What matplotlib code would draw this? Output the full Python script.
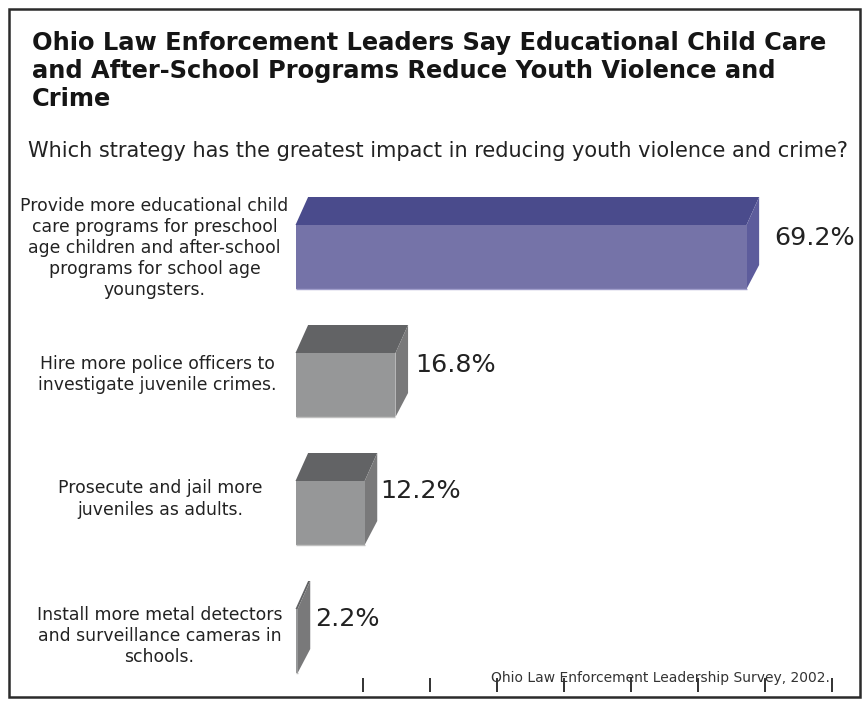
import matplotlib
matplotlib.use("Agg")
from matplotlib import pyplot as plt
from matplotlib.patches import Polygon, Rectangle

W, H = 865, 702

title = "Ohio Law Enforcement Leaders Say Educational Child Care\nand After-School Programs Reduce Youth Violence and\nCrime"
question = "Which strategy has the greatest impact in reducing youth violence and crime?"
source = "Ohio Law Enforcement Leadership Survey, 2002."

categories = [
    "Provide more educational child\ncare programs for preschool\nage children and after-school\nprograms for school age\nyoungsters.",
    "Hire more police officers to\ninvestigate juvenile crimes.",
    "Prosecute and jail more\njuveniles as adults.",
    "Install more metal detectors\nand surveillance cameras in\nschools.",
]
values = [69.2, 16.8, 12.2, 2.2]
x_ticks = [10, 20, 30, 40, 50, 60, 70, 80]

# face colours: front, top, side, bottom edge
purple = ("#7573a8", "#4a4b8c", "#5d5c9c", "#a09ecb")
gray = ("#969798", "#626365", "#79797a", "#c0c0c0")
bar_colors = [purple, gray, gray, gray]

# label placement in pixels
label_pos = [(154.5, 248), (157, 374.5), (160, 499), (159.5, 636)]
value_offset = [(15.5, 19), (7.5, 20), (3, 22), (4.5, 22)]


def px(x, y):
    # pixel position in the picture to figure fraction
    return x / W, 1 - y / H


fig = plt.figure(figsize=(W / 100, H / 100), dpi=100)
fig.patch.set_facecolor("white")

# Outer frame
fig.add_artist(Rectangle(px(8.5, 696.5), 851.5 / W, 688 / H, transform=fig.transFigure,
                         fill=False, edgecolor="#2b2b2b", linewidth=1.8))

# Axes: x runs 0-80 from 295.5 to 831 px, categories are 128 px apart
left, right, top, bottom = 295.5, 831.5, 193, 678
ax = fig.add_axes([left / W, 1 - bottom / H, (right - left) / W, (bottom - top) / H])
ax.set_xlim(0, 80)
ax.set_ylim((bottom - 257) / 128, (top - 257) / 128)
ax.patch.set_visible(False)
for spine in ax.spines.values():
    spine.set_visible(False)
ax.set_yticks([])
ax.set_xticks(x_ticks)
ax.set_xticklabels([])
ax.tick_params(axis="x", direction="out", length=10, width=1.3, color="#222222")

# 3D depth of the bars, in data units
depth_x = 12.6 / 6.7
depth_top = 28 / 128
depth_bottom = 24 / 128
half = 32 / 128

for i, (val, cols) in enumerate(zip(values, bar_colors)):
    front = max(val - depth_x, 0.3)
    back = front + depth_x
    ax.add_patch(Polygon([(0, i - half), (depth_x, i - half - depth_top),
                          (back, i - half - depth_top), (front, i - half)],
                         facecolor=cols[1], edgecolor="none", clip_on=False))
    ax.add_patch(Polygon([(front, i - half), (back, i - half - depth_top),
                          (back, i + half - depth_bottom), (front, i + half)],
                         facecolor=cols[2], edgecolor="none", clip_on=False))
    ax.barh(i, front, height=2 * half, color=cols[0], linewidth=0)
    ax.plot([0, front], [i + half, i + half], color=cols[3], linewidth=1, solid_capstyle="butt")
    ax.annotate(f"{val}%", (back, i), xytext=value_offset[i], textcoords="offset pixels",
                fontsize=18.3, color="#222222", va="center", ha="left",
                annotation_clip=False)

for label, pos in zip(categories, label_pos):
    fig.text(*px(*pos), label, ha="center", va="center",
             fontsize=12.4, color="#222222", linespacing=1.225)

fig.text(*px(32, 71), title, fontsize=17.35, fontweight="bold", color="#151515",
         va="center", ha="left", linespacing=1.2)
fig.text(*px(28, 151), question, fontsize=15.03, color="#222222", va="center", ha="left")
fig.text(*px(491, 678), source, fontsize=10.0, color="#333333", va="center", ha="left")

fig.savefig("out.png", dpi=100)
